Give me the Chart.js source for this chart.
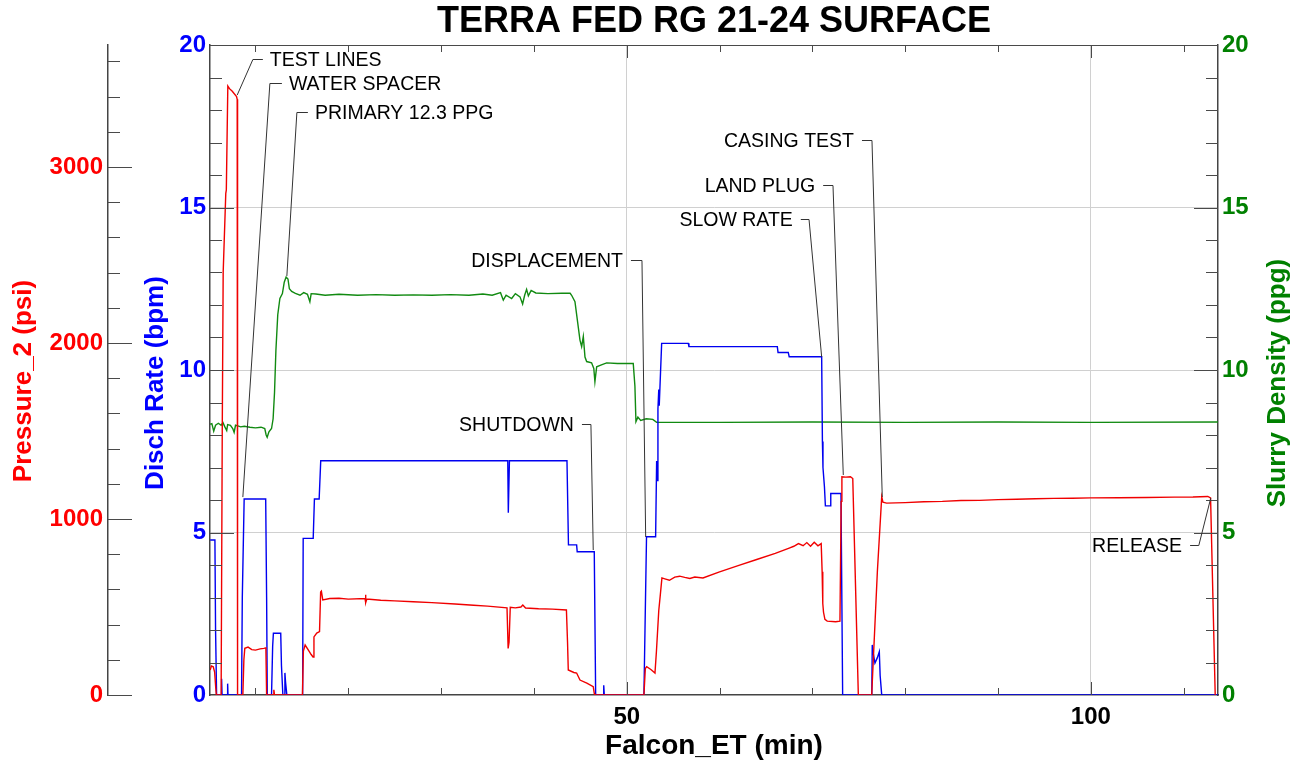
<!DOCTYPE html>
<html>
<head>
<meta charset="utf-8">
<title>TERRA FED RG 21-24 SURFACE</title>
<script src="https://cdn.jsdelivr.net/npm/chart.js@4.4.1/dist/chart.umd.min.js"></script>
<style>
  body { margin: 0; background: #fff; }
  canvas { display: block; }
</style>
</head>
<body>
<canvas class="grafico" width="1302" height="763"></canvas>
<script>
// pressure (psi) vs time (min)
const pressure_time = [5.12, 5.25, 5.45, 5.6, 5.72, 5.78, 6.3, 6.42, 6.52, 6.8, 6.86, 7.02, 7.2, 7.5, 7.96, 8.03, 8.07,
  8.64, 8.75, 8.85, 9.2, 9.6, 10.0, 10.5, 10.9, 11.12, 11.2, 11.93, 11.98, 12.05,
  15.06, 15.16, 15.35, 15.7, 16.0, 16.2, 16.3, 16.6, 16.9, 17.02, 17.1, 17.25, 18.0, 19.0, 20.0, 21.8, 21.85, 21.9, 22.0,
  23.5, 25.0, 27.0, 29.0, 31.5, 33.5, 35.0, 37.1, 37.22, 37.32, 37.45, 38.0, 38.6, 38.8, 39.1, 40.5, 42.0, 43.5,
  43.62, 43.7, 44.3, 44.6, 44.96, 45.7, 46.39, 46.5, 46.55,
  51.85, 52.0, 52.15, 52.6, 53.04, 53.2, 53.45, 53.6, 53.79, 54.1, 54.6, 55.17, 55.7, 56.25, 56.8, 57.33, 58.21,
  60.0, 62.0, 64.0, 66.0, 67.5, 68.0, 68.5, 69.0, 69.4, 69.8, 70.2, 70.6, 70.95, 71.05, 71.12, 71.2, 71.35, 71.6,
  72.5, 72.97, 73.1, 73.18, 73.6, 74.1, 74.35, 74.95, 76.39, 77.0, 77.47, 77.6, 78.0, 80.0, 82.0, 84.0, 86.0, 88.0,
  90.0, 92.0, 94.0, 96.0, 98.0, 100.0, 103.0, 106.0, 109.0, 111.0, 112.6, 112.9, 113.4];
const pressure_psi = [142, 165, 160, 130, 40, 0, 0, 1500, 2400, 2850, 2870, 3460, 3445, 3430, 3400, 3385, 0,
  0, 200, 265, 272, 258, 255, 262, 265, 268, 0, 0, 30, 0,
  0, 250, 284, 255, 230, 216, 330, 352, 360, 585, 590, 540, 548, 550, 545, 548, 570, 525, 545,
  538, 535, 530, 525, 517, 510, 505, 495, 265, 300, 498, 495, 500, 511, 494, 490, 488, 483,
  300, 142, 128, 125, 85, 68, 47, 10, 0,
  0, 150, 161, 145, 125, 250, 480, 560, 665, 660, 652, 670, 675, 668, 662, 670, 665,
  700, 735, 770, 805, 835, 845, 860, 848, 866, 845, 868, 848, 860, 700, 520, 470, 430, 420,
  416, 420, 1100, 1240, 1238, 1240, 1230, 0, 0, 700, 1127, 1095, 1090, 1093, 1098, 1100, 1105, 1106,
  1110, 1112, 1115, 1117, 1118, 1120, 1121, 1122, 1124, 1125, 1128, 1120, 0];

// discharge rate (bpm)
const rate_time = [5.12, 5.63, 5.7, 5.81, 6.3, 6.35, 6.4, 6.98, 7.0, 7.04, 8.5, 8.58, 8.78, 11.1, 11.2, 11.27,
  11.73, 11.85, 11.93, 12.72, 12.8, 12.95, 13.1, 13.17, 13.24, 13.38, 15.08, 15.14, 16.22, 16.35, 16.86, 17.03,
  37.18, 37.24, 37.3, 37.36, 43.56, 43.72, 44.6, 44.66, 46.5, 46.65, 47.46, 47.52, 47.58, 51.85, 52.13, 53.11,
  53.22, 53.3, 53.36, 53.45, 53.5, 53.76, 56.63, 56.7, 66.22, 66.3, 67.4, 67.5, 71.0, 71.08, 71.14, 71.3, 71.4,
  71.9, 71.98, 73.08, 73.26, 76.4, 76.45, 76.55, 76.74, 77.0, 77.21, 77.3, 77.47, 113.7];
const rate_bpm = [4.77, 4.77, 2.0, 0, 0, 0.5, 0, 0, 0.35, 0, 0, 3.0, 6.03, 6.03, 3.0, 0,
  0, 1.5, 1.9, 1.9, 0.9, 0, 0, 0.68, 0.4, 0, 0, 4.82, 4.82, 6.03, 6.03, 7.21,
  7.21, 5.61, 5.61, 7.21, 7.21, 4.62, 4.62, 4.41, 4.41, 0, 0, 0.3, 0, 0, 4.87, 4.87,
  7.2, 6.6, 8.8, 9.4, 8.9, 10.82, 10.82, 10.72, 10.72, 10.54, 10.54, 10.41, 10.41, 7.8, 7.0, 6.4, 5.82,
  5.82, 6.2, 6.2, 0, 0, 1.54, 1.3, 0.98, 1.15, 1.33, 0.6, 0, 0];

// slurry density (ppg)
const density_time = [5.12, 5.3, 5.5, 5.7, 6.0, 6.3, 6.5, 6.7, 6.9, 7.0, 7.3, 7.55, 7.7, 7.85, 8.1, 8.4, 8.8, 9.4,
  10.0, 10.6, 11.0, 11.15, 11.26, 11.45, 11.73, 11.9, 12.05, 12.2, 12.4, 12.63, 12.9, 13.1, 13.3, 13.5, 13.65,
  13.9, 14.3, 14.8, 15.2, 15.6, 15.86, 16.0, 16.5, 17.5, 19.0, 21.0, 23.0, 25.0, 27.0, 29.0, 31.0, 33.0, 34.5,
  35.5, 36.4, 36.7, 37.0, 37.6, 38.0, 38.5, 38.78, 39.0, 39.21, 39.4, 39.7, 40.2, 41.5, 43.0, 43.9, 44.06, 44.42,
  44.96, 45.14, 45.32, 45.5, 45.68, 46.21, 46.45, 46.57, 46.76, 47.2, 47.83, 49.0, 50.7, 50.88, 50.99, 51.2,
  51.5, 52.1, 52.8, 53.22, 60.0, 70.0, 80.0, 90.0, 100.0, 113.7];
const density_ppg = [8.33, 8.35, 8.12, 8.3, 8.36, 8.3, 8.38, 8.25, 8.14, 8.32, 8.3, 8.2, 8.08, 8.3, 8.28, 8.25, 8.27, 8.24,
  8.22, 8.24, 8.2, 8.0, 7.93, 8.1, 8.2, 8.5, 9.3, 10.6, 11.7, 12.2, 12.35, 12.7, 12.86, 12.8, 12.5,
  12.42, 12.36, 12.3, 12.38, 12.33, 12.1, 12.35, 12.34, 12.3, 12.33, 12.3, 12.32, 12.3, 12.31, 12.3, 12.32, 12.3, 12.34,
  12.3, 12.38, 12.15, 12.3, 12.2, 12.35, 12.25, 12.03, 12.3, 12.48, 12.28, 12.45, 12.37, 12.35, 12.36, 12.36, 12.3, 12.1,
  10.92, 10.72, 11.03, 10.4, 10.26, 10.22, 10.05, 9.64, 10.1, 10.15, 10.22, 10.2, 10.2, 9.5, 8.41, 8.55,
  8.45, 8.5, 8.48, 8.39, 8.39, 8.4, 8.39, 8.4, 8.39, 8.4];

const x_ticks = [50, 100];
const psi_ticks = [0, 1000, 2000, 3000];
const rate_ticks = [0, 5, 10, 15, 20];
const density_ticks = [0, 5, 10, 15, 20];

// event notes: text position, elbow of the leader and the point it marks (min, bpm)
const note_labels = ["TEST LINES", "WATER SPACER", "PRIMARY 12.3 PPG", "DISPLACEMENT", "SHUTDOWN",
  "SLOW RATE", "LAND PLUG", "CASING TEST", "RELEASE"];
const note_side = ["right", "right", "right", "left", "left", "left", "left", "left", "left"];
const note_text_x = [11.55, 13.6, 16.4, 49.59, 44.31, 67.89, 70.3, 74.48, 109.83];
const note_text_y = [19.57, 18.83, 17.94, 13.38, 8.34, 14.65, 15.69, 17.08, 4.62];
const note_elbow_x = [9.72, 11.55, 14.46, 51.64, 46.14, 69.64, 72.22, 76.42, 111.63];
const note_point_x = [8.03, 8.64, 13.38, 52.04, 46.39, 71.0, 73.33, 77.53, 112.92];
const note_point_y = [18.46, 6.09, 12.89, 4.86, 4.46, 10.4, 6.77, 6.09, 6.06];

const fuente = '"Liberation Sans", Arial, sans-serif';
const grafico = document.querySelector(".grafico");
let mi_grafico;

function toPoints(xs, ys) {
  return xs.map((x, i) => ({ x: x, y: ys[i] }));
}

function fixTicks(values) {
  return (scale) => {
    scale.ticks = values.map((v) => ({ value: v }));
  };
}

function verticalText(ctx, text, x, y, color) {
  ctx.save();
  ctx.translate(x, y);
  ctx.rotate(-Math.PI / 2);
  ctx.fillStyle = color;
  ctx.font = `bold 26px ${fuente}`;
  ctx.textAlign = "center";
  ctx.textBaseline = "middle";
  ctx.fillText(text, 0, 0);
  ctx.restore();
}

const decor = {
  id: "decor",
  afterDraw(chart) {
    const ctx = chart.ctx;
    const area = chart.chartArea;
    const { x, psi, rate, dens } = chart.scales;

    ctx.save();
    ctx.strokeStyle = "#4a4a4a";
    ctx.lineWidth = 1;
    ctx.beginPath();
    ctx.moveTo(area.left, area.top + 0.5);
    ctx.lineTo(area.right, area.top + 0.5);
    for (let v = 0; v <= psi.max; v += 200) {
      const y = Math.round(psi.getPixelForValue(v)) + 0.5;
      ctx.moveTo(psi.right, y);
      ctx.lineTo(psi.right + (v % 1000 === 0 ? 24 : 12), y);
    }
    for (let v = 1; v < 20; v++) {
      const len = v % 5 === 0 ? 24 : 12;
      let y = Math.round(rate.getPixelForValue(v)) + 0.5;
      ctx.moveTo(area.left, y);
      ctx.lineTo(area.left + len, y);
      y = Math.round(dens.getPixelForValue(v)) + 0.5;
      ctx.moveTo(area.right, y);
      ctx.lineTo(area.right - len, y);
    }
    for (let v = 10; v < x.max; v += 10) {
      const len = v % 50 === 0 ? 13 : 7;
      const px = Math.round(x.getPixelForValue(v)) + 0.5;
      ctx.moveTo(px, area.bottom);
      ctx.lineTo(px, area.bottom - len);
      ctx.moveTo(px, area.top);
      ctx.lineTo(px, area.top + len);
    }
    ctx.stroke();

    verticalText(ctx, "Pressure_2 (psi)", psi.left + 24, 381, "#ff0000");
    verticalText(ctx, "Disch Rate (bpm)", rate.left + 48, 383, "#0000ff");
    verticalText(ctx, "Slurry Density (ppg)", dens.left + 60, 383, "#008000");

    // event notes with leader lines
    ctx.font = `19.5px ${fuente}`;
    ctx.fillStyle = "#000";
    ctx.textBaseline = "middle";
    ctx.strokeStyle = "#333";
    note_labels.forEach((label, i) => {
      const tx = x.getPixelForValue(note_text_x[i]);
      const ty = Math.round(rate.getPixelForValue(note_text_y[i])) + 0.5;
      const ex = x.getPixelForValue(note_elbow_x[i]);
      const px = x.getPixelForValue(note_point_x[i]);
      const py = rate.getPixelForValue(note_point_y[i]);
      const right = note_side[i] === "right";
      ctx.textAlign = right ? "left" : "right";
      ctx.fillText(label, tx, ty + 1);
      ctx.beginPath();
      ctx.moveTo(right ? tx - 7 : tx + 8, ty);
      ctx.lineTo(ex, ty);
      ctx.lineTo(px, py);
      ctx.stroke();
    });
    ctx.restore();
  },
};

function createGraph() {
  const tickFont = { family: fuente, size: 24, weight: "bold" };
  const plain = (v) => String(v);
  mi_grafico = new Chart(grafico, {
    type: "line",
    data: {
      datasets: [
        {
          label: "Pressure_2 (psi)",
          data: toPoints(pressure_time, pressure_psi),
          yAxisID: "psi",
          borderColor: "#f00000",
        },
        {
          label: "Disch Rate (bpm)",
          data: toPoints(rate_time, rate_bpm),
          yAxisID: "rate",
          borderColor: "#0000f0",
        },
        {
          label: "Slurry Density (ppg)",
          data: toPoints(density_time, density_ppg),
          yAxisID: "dens",
          borderColor: "#118a11",
        },
      ],
    },
    options: {
      responsive: false,
      animation: false,
      layout: { padding: 0 },
      elements: {
        point: { radius: 0 },
        line: { borderWidth: 1.4, tension: 0 },
      },
      plugins: {
        legend: { display: false },
        tooltip: { enabled: false },
        title: {
          display: true,
          text: "TERRA FED RG 21-24 SURFACE",
          color: "#000",
          fullSize: false,
          font: { family: fuente, size: 36, weight: "bold" },
          padding: { top: 0.5, bottom: 1.3 },
        },
      },
      scales: {
        x: {
          type: "linear",
          min: 5.1,
          max: 113.7,
          afterBuildTicks: fixTicks(x_ticks),
          afterFit: (s) => { s.height = 68; },
          grid: { color: "#d0d0d0", drawTicks: false },
          border: { color: "#444", width: 1.5 },
          ticks: { color: "#000", font: tickFont, padding: 8, maxRotation: 0, callback: plain },
          title: {
            display: true,
            text: "Falcon_ET (min)",
            color: "#000",
            font: { family: fuente, size: 28, weight: "bold" },
            padding: 0,
          },
        },
        psi: {
          position: "left",
          weight: 1,
          min: 0,
          max: 3693,
          afterBuildTicks: fixTicks(psi_ticks),
          afterFit: (s) => { s.width = 108; },
          grid: { display: false, drawTicks: false },
          border: { color: "#444", width: 1.5 },
          ticks: { color: "#ff0000", font: tickFont, padding: 5, callback: plain },
        },
        rate: {
          position: "left",
          weight: 0,
          min: 0,
          max: 20,
          afterBuildTicks: fixTicks(rate_ticks),
          afterFit: (s) => { s.width = 102; },
          grid: {
            color: (c) => (c.tick && c.tick.value > 0 && c.tick.value < 20 ? "#d0d0d0" : "rgba(0,0,0,0)"),
            drawTicks: false,
          },
          border: { color: "#444", width: 1.5 },
          ticks: { color: "#0000ff", font: tickFont, padding: 4, callback: plain },
        },
        dens: {
          position: "right",
          min: 0,
          max: 20,
          afterBuildTicks: fixTicks(density_ticks),
          afterFit: (s) => { s.width = 84; },
          grid: { display: false, drawTicks: false },
          border: { color: "#444", width: 1.5 },
          ticks: { color: "#008000", font: tickFont, padding: 4, callback: plain },
        },
      },
    },
    plugins: [decor],
  });
}

createGraph();
</script>
</body>
</html>
